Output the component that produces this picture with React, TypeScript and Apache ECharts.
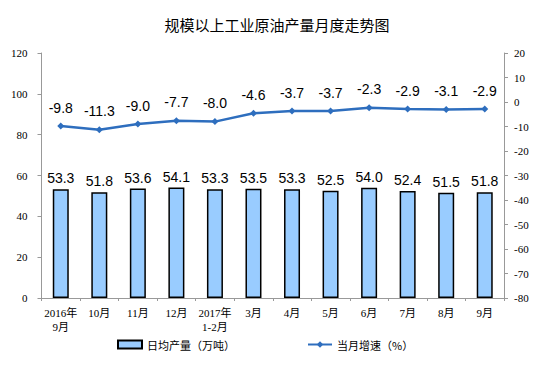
import React, { useEffect, useRef } from "react";
import * as echarts from "echarts";

const categories = ["2016年\n9月", "10月", "11月", "12月", "2017年\n1-2月", "3月", "4月", "5月", "6月", "7月", "8月", "9月"];
const dailyOutput = [53.3, 51.8, 53.6, 54.1, 53.3, 53.5, 53.3, 52.5, 54.0, 52.4, 51.5, 51.8];
const growthRate = [-9.8, -11.3, -9.0, -7.7, -8.0, -4.6, -3.7, -3.7, -2.3, -2.9, -3.1, -2.9];

export default function App() {
  const ref = useRef<HTMLDivElement>(null);
  useEffect(() => {
    if (!ref.current) return;
    const chart = echarts.init(ref.current, null, { renderer: "svg" });
    const axisLabelFont = { fontFamily: "'Liberation Serif', 'Noto Sans CJK SC', serif", fontSize: 11, color: "#000" };
    chart.setOption({
      animation: false,
      title: {
        text: "规模以上工业原油产量月度走势图",
        left: "center",
        top: 4,
        textStyle: { fontFamily: "'Noto Sans CJK SC', sans-serif", fontSize: 15, fontWeight: "normal", color: "#000" },
      },
      legend: {
        bottom: 13,
        left: 104,
        itemGap: 72,
        itemWidth: 24,
        itemHeight: 8,
        textStyle: { fontFamily: "'Noto Sans CJK SC', sans-serif", fontSize: 11, color: "#000" },
        data: [
          { name: "日均产量（万吨）", icon: "rect" },
          { name: "当月增速（%）" },
        ],
      },
      grid: { left: 32, right: 42, top: 45, bottom: 70 },
      xAxis: {
        type: "category",
        data: categories,
        axisLine: { lineStyle: { color: "#999" } },
        axisTick: { show: true, length: 3, lineStyle: { color: "#999" } },
        axisLabel: { ...axisLabelFont, interval: 0, margin: 8, lineHeight: 14 },
      },
      yAxis: [
        {
          type: "value",
          min: 0,
          max: 120,
          interval: 20,
          splitLine: { show: false },
          axisLine: { show: true, lineStyle: { color: "#999" } },
          axisTick: { show: true, length: 4, lineStyle: { color: "#999" } },
          axisLabel: { ...axisLabelFont, margin: 14 },
        },
        {
          type: "value",
          min: -80,
          max: 20,
          interval: 10,
          splitLine: { show: false },
          axisLine: { show: true, lineStyle: { color: "#999" } },
          axisTick: { show: true, length: 4, lineStyle: { color: "#999" } },
          axisLabel: { ...axisLabelFont, margin: 10 },
        },
      ],
      series: [
        {
          name: "日均产量（万吨）",
          type: "bar",
          data: dailyOutput,
          barWidth: 16,
          itemStyle: { color: "#99CCFF", borderColor: "#000", borderWidth: 1.5 },
          label: {
            show: true,
            position: "top",
            distance: 4,
            formatter: (p: any) => p.value.toFixed(1),
            fontFamily: "'Liberation Sans', Arial, sans-serif",
            fontSize: 14,
            color: "#000",
          },
        },
        {
          name: "当月增速（%）",
          type: "line",
          yAxisIndex: 1,
          data: growthRate,
          symbol: "diamond",
          symbolSize: 7,
          lineStyle: { color: "#2E6EBE", width: 2.5 },
          itemStyle: { color: "#2E6EBE" },
          label: {
            show: true,
            position: "top",
            distance: 8,
            formatter: (p: any) => p.value.toFixed(1),
            fontFamily: "'Liberation Sans', Arial, sans-serif",
            fontSize: 14,
            color: "#000",
          },
        },
      ],
    });
    return () => chart.dispose();
  }, []);
  return <div ref={ref} style={{ width: 538, height: 360 }} />;
}
